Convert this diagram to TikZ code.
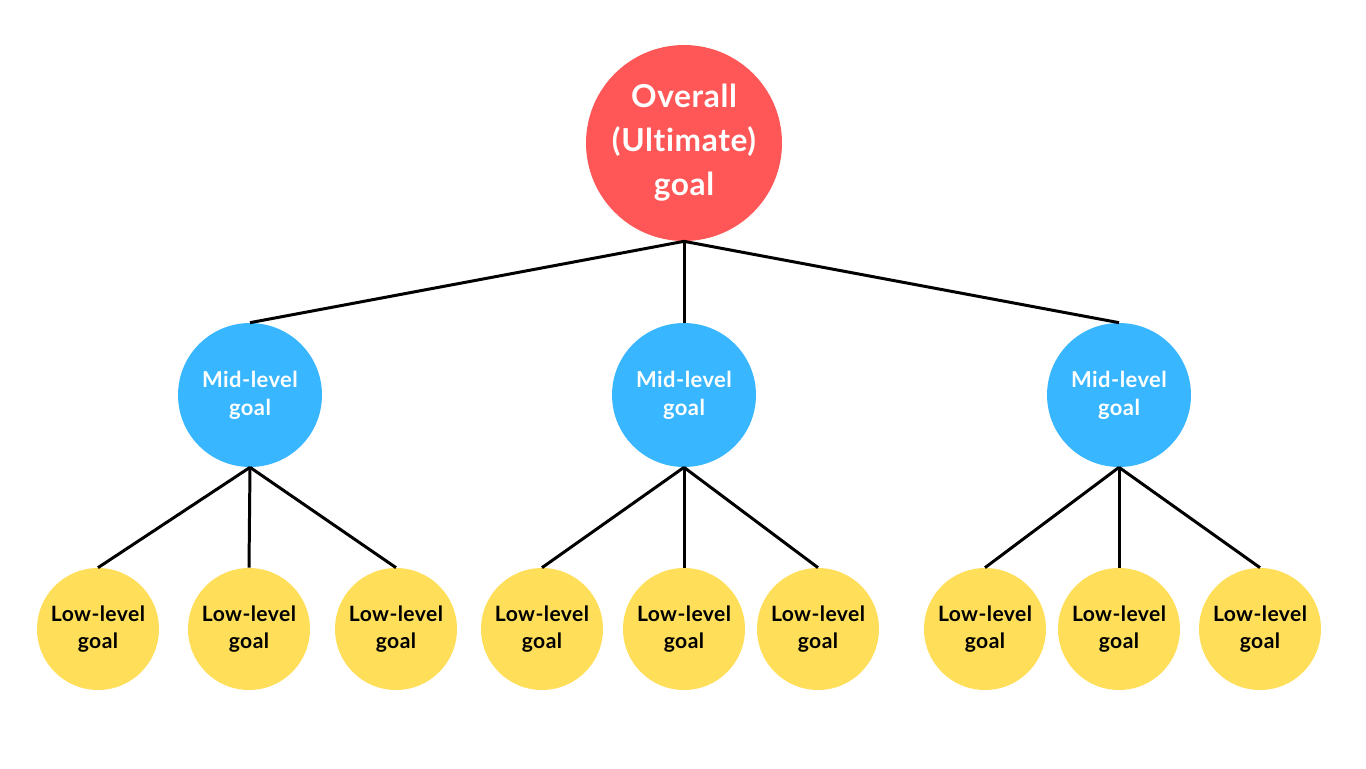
\documentclass[tikz,border=0pt]{standalone}
\usepackage{fontspec}
\setmainfont[Ligatures=NoCommon,LetterSpace=2]{Lato}
\usepackage{tikz}
\usetikzlibrary{calc}
\definecolor{goalred}{HTML}{FF5757}
\definecolor{midblue}{HTML}{38B6FF}
\definecolor{lowyellow}{HTML}{FFDE59}

\begin{document}
\begin{tikzpicture}[x=0.02cm,y=-0.02cm,
  top/.style={circle, fill=goalred, minimum size=3.92cm, inner sep=0pt, align=center,
    text=white, font=\fontsize{18}{25}\selectfont\bfseries},
  mid/.style={circle, fill=midblue, minimum size=2.88cm, inner sep=0pt, align=center,
    text=white, font=\fontsize{12.5}{16}\selectfont\bfseries},
  low/.style={circle, fill=lowyellow, minimum size=2.44cm, inner sep=0pt, align=center,
    text=black, font=\fontsize{12}{15.5}\selectfont\bfseries},
  link/.style={line width=1.7pt, black}]
\useasboundingbox (0,0) rectangle (1366,768);

\node[top] (Goal) at (684,143) {Overall\\(Ultimate)\\goal};

\node[mid] (Mid1) at (250,395) {Mid-level\\goal};
\node[mid] (Mid2) at (684,395) {Mid-level\\goal};
\node[mid] (Mid3) at (1119,395) {Mid-level\\goal};

\node[low] (Low1) at (98,629) {Low-level\\goal};
\node[low] (Low2) at (249,629) {Low-level\\goal};
\node[low] (Low3) at (396,629) {Low-level\\goal};
\node[low] (Low4) at (542,629) {Low-level\\goal};
\node[low] (Low5) at (684,629) {Low-level\\goal};
\node[low] (Low6) at (818,629) {Low-level\\goal};
\node[low] (Low7) at (985,629) {Low-level\\goal};
\node[low] (Low8) at (1119,629) {Low-level\\goal};
\node[low] (Low9) at (1260,629) {Low-level\\goal};

\draw[link] (Goal.south) -- (Mid1.north);
\draw[link] (Goal.south) -- (Mid2.north);
\draw[link] (Goal.south) -- (Mid3.north);

\draw[link] (Mid1.south) -- (Low1.north);
\draw[link] (Mid1.south) -- (Low2.north);
\draw[link] (Mid1.south) -- (Low3.north);
\draw[link] (Mid2.south) -- (Low4.north);
\draw[link] (Mid2.south) -- (Low5.north);
\draw[link] (Mid2.south) -- (Low6.north);
\draw[link] (Mid3.south) -- (Low7.north);
\draw[link] (Mid3.south) -- (Low8.north);
\draw[link] (Mid3.south) -- (Low9.north);
\end{tikzpicture}
\end{document}
